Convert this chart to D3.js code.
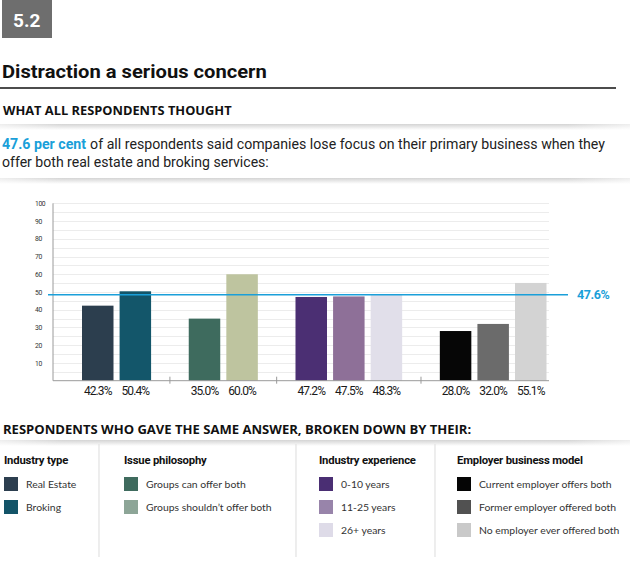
<!DOCTYPE html>
<html>
<head>
<meta charset="utf-8">
<script src="https://cdn.jsdelivr.net/npm/d3@7"></script>
<style>
  html, body { margin: 0; padding: 0; background: #fff; }
  svg { display: block; }
</style>
</head>
<body>
<svg id="chart" width="630" height="562"></svg>
<script>
// ---------- data ----------
const groupNames = ["Industry type", "Issue philosophy", "Industry experience", "Employer business model"];
const seriesLabels = [
  ["Real Estate", "Broking"],
  ["Groups can offer both", "Groups shouldn\u2019t offer both"],
  ["0-10 years", "11-25 years", "26+ years"],
  ["Current employer offers both", "Former employer offered both", "No employer ever offered both"]
];
const seriesValues = [
  [42.3, 50.4],
  [35.0, 60.0],
  [47.2, 47.5, 48.3],
  [28.0, 32.0, 55.1]
];
const barColors = [
  ["#2c3e4e", "#13566a"],
  ["#3e6b5e", "#bec49f"],
  ["#4b2f73", "#8e7098", "#e1dfea"],
  ["#060606", "#6b6b6b", "#d3d3d3"]
];
const legendColors = [
  ["#2c3e4f", "#135468"],
  ["#3f6b5e", "#8da597"],
  ["#4a2e73", "#9884aa", "#dedbe8"],
  ["#050505", "#515151", "#c9c9c9"]
];
const averageValue = 47.6;
const yTickValues = [10, 20, 30, 40, 50, 60, 70, 80, 90, 100];
const gridValues = d3.range(5, 101, 5);
const headline = "Distraction a serious concern";
const badge = "5.2";

// ---------- build ----------
const svg = d3.select("#chart");
const defs = svg.append("defs");
const blue = "#1a9fd9";

const g1 = defs.append("linearGradient").attr("id", "shadowV").attr("x1", 0).attr("y1", 0).attr("x2", 0).attr("y2", 1);
g1.append("stop").attr("offset", "0%").attr("stop-color", "#d4d4d4");
g1.append("stop").attr("offset", "100%").attr("stop-color", "#ffffff");
const mask = defs.append("linearGradient").attr("id", "shadowH").attr("x1", 0).attr("y1", 0).attr("x2", 1).attr("y2", 0);
mask.append("stop").attr("offset", "0%").attr("stop-color", "#fff").attr("stop-opacity", 0.6);
mask.append("stop").attr("offset", "10%").attr("stop-color", "#fff").attr("stop-opacity", 0);
mask.append("stop").attr("offset", "90%").attr("stop-color", "#fff").attr("stop-opacity", 0);
mask.append("stop").attr("offset", "100%").attr("stop-color", "#fff").attr("stop-opacity", 0.6);

function shadow(yy) {
  svg.append("rect").attr("x", 0).attr("y", yy).attr("width", 630).attr("height", 6).attr("fill", "url(#shadowV)");
  svg.append("rect").attr("x", 0).attr("y", yy).attr("width", 630).attr("height", 6).attr("fill", "url(#shadowH)");
}
function fit(sel, w) {
  const node = sel.node();
  const len = node.getComputedTextLength();
  const x0 = +sel.attr("x");
  const k = w / len;
  sel.attr("transform", `translate(${x0},0) scale(${k},1) translate(${-x0},0)`);
}

// badge
svg.append("rect").attr("x", 2).attr("y", 0).attr("width", 50).attr("height", 38).attr("fill", "#6e6e6e");
svg.append("text").attr("x", 13).attr("y", 27).text(badge)
  .attr("font-family", "Roboto, sans-serif").attr("font-weight", 700).attr("font-size", 19).attr("fill", "#fff");

// headline
const ht = svg.append("text").attr("x", 2).attr("y", 78).text(headline)
  .attr("font-family", "Roboto, sans-serif").attr("font-weight", 700).attr("font-size", 19).attr("fill", "#111");
fit(ht, 265);
svg.append("line").attr("x1", 0).attr("x2", 616).attr("y1", 88).attr("y2", 88).attr("stroke", "#111").attr("stroke-width", 1.5);

const sub1 = svg.append("text").attr("x", 3).attr("y", 115).text("WHAT ALL RESPONDENTS THOUGHT")
  .attr("font-family", "'Open Sans', sans-serif").attr("font-weight", 700).attr("font-size", 12.5).attr("fill", "#111");
fit(sub1, 229);
shadow(124);

// intro paragraph (two pieces on line 1, scaled together)
const introSize = 14.6;
const introG = svg.append("g");
const pA = introG.append("text").attr("x", 2).attr("y", 149)
  .attr("font-family", "Roboto, sans-serif").attr("font-size", introSize).attr("font-weight", 700)
  .attr("fill", blue).text(averageValue + " per cent");
const wA = pA.node().getComputedTextLength();
const gapW = 4.2;
const pB = introG.append("text").attr("x", 2 + wA + gapW).attr("y", 149)
  .attr("font-family", "Roboto, sans-serif").attr("font-size", introSize).attr("fill", "#222")
  .text("of all respondents said companies lose focus on their primary business when they");
const wB = pB.node().getComputedTextLength();
const kIntro = 603 / (wA + gapW + wB);
introG.attr("transform", `translate(2,0) scale(${kIntro},1) translate(-2,0)`);
const p2 = svg.append("text").attr("x", 2).attr("y", 167)
  .attr("font-family", "Roboto, sans-serif").attr("font-size", introSize).attr("fill", "#222")
  .text("offer both real estate and broking services:");
fit(p2, 267);
shadow(178);

// ---------- chart ----------
const axisX = 53, plotRight = 549;
const y = d3.scaleLinear().domain([0, 100]).range([380.7, 203.3]);
const groupGap = 0.84;
const flat = [];
let idx = 0;
seriesValues.forEach((vals, g) => vals.forEach((v, i) => {
  flat.push({ g, i, v, pos: idx + g * groupGap, color: barColors[g][i] });
  idx++;
}));
const lastPos = d3.max(flat, d => d.pos);
const x = d3.scaleLinear().domain([0, lastPos]).range([82, 515]);
const barW = 31.5;

// gridlines
svg.append("g").selectAll("line").data(gridValues).join("line")
  .attr("x1", axisX).attr("x2", plotRight)
  .attr("y1", d => Math.round(y(d)) + 0.5).attr("y2", d => Math.round(y(d)) + 0.5)
  .attr("stroke", "#ececec").attr("stroke-width", 1);

// y axis
const yAxis = svg.append("g").attr("transform", `translate(${axisX},0)`)
  .call(d3.axisLeft(y).tickValues(yTickValues).tickSize(0).tickPadding(10));
yAxis.select(".domain").attr("stroke", "#9a9a9a").attr("d", `M0,${y(100)}V${y(0)}`);
yAxis.selectAll("text").attr("font-family", "Roboto, sans-serif").attr("font-size", 6.8)
  .attr("fill", "#333").attr("text-anchor", "start").attr("x", -18).attr("letter-spacing", -0.4);

// bars
svg.append("g").selectAll("rect").data(flat).join("rect")
  .attr("x", d => x(d.pos)).attr("width", barW)
  .attr("y", d => y(d.v)).attr("height", d => y(0) - y(d.v))
  .attr("fill", d => d.color);

// baseline
svg.append("line").attr("x1", axisX).attr("x2", plotRight).attr("y1", y(0)).attr("y2", y(0))
  .attr("stroke", "#9a9a9a").attr("stroke-width", 1);

// group separators
const seps = [];
for (let g = 0; g < seriesValues.length - 1; g++) {
  const a = d3.max(flat.filter(d => d.g === g), d => x(d.pos) + barW);
  const b = d3.min(flat.filter(d => d.g === g + 1), d => x(d.pos));
  seps.push((a + b) / 2);
}
svg.append("g").selectAll("line").data(seps).join("line")
  .attr("x1", d => d).attr("x2", d => d).attr("y1", y(0) - 4).attr("y2", y(0) + 3)
  .attr("stroke", "#9a9a9a");

// value labels
svg.append("g").selectAll("text").data(flat).join("text")
  .attr("x", d => x(d.pos) + barW / 2).attr("y", 394.5)
  .attr("text-anchor", "middle")
  .attr("font-family", "Roboto, sans-serif").attr("font-size", 12).attr("letter-spacing", -0.9)
  .attr("fill", "#1a1a1a").text(d => d.v.toFixed(1) + "%");

// average line
svg.append("line").attr("x1", 48).attr("x2", 568).attr("y1", y(averageValue) - 1.5).attr("y2", y(averageValue) - 1.5)
  .attr("stroke", blue).attr("stroke-width", 1.6);
svg.append("text").attr("x", 577).attr("y", y(averageValue) - 1.5).attr("dy", "0.35em")
  .attr("font-family", "Roboto, sans-serif").attr("font-weight", 700).attr("font-size", 12.5)
  .attr("letter-spacing", -0.4).attr("fill", blue).text(averageValue + "%");

// ---------- legend section ----------
const lh = svg.append("text").attr("x", 3).attr("y", 434)
  .text("RESPONDENTS WHO GAVE THE SAME ANSWER, BROKEN DOWN BY THEIR:")
  .attr("font-family", "'Open Sans', sans-serif").attr("font-weight", 700).attr("font-size", 13).attr("fill", "#111");
fit(lh, 469);
shadow(440);

const colX = [4, 124, 319, 457];
const sepX = [99, 296, 435];
svg.append("g").selectAll("line").data(sepX).join("line")
  .attr("x1", d => d).attr("x2", d => d).attr("y1", 444).attr("y2", 557)
  .attr("stroke", "#e2e2e2").attr("stroke-width", 1.2);

groupNames.forEach((name, g) => {
  const gx = colX[g];
  svg.append("text").attr("x", gx).attr("y", 464).text(name)
    .attr("font-family", "Roboto, sans-serif").attr("font-weight", 700).attr("font-size", 11.3)
    .attr("letter-spacing", -0.2).attr("fill", "#111");
  seriesLabels[g].forEach((lab, i) => {
    const cy = 484 + i * 23;
    svg.append("rect").attr("x", gx).attr("y", cy - 7).attr("width", 14).attr("height", 14)
      .attr("fill", legendColors[g][i]);
    svg.append("text").attr("x", gx + 22).attr("y", cy).attr("dy", "0.35em").text(lab)
      .attr("font-family", "Lato, sans-serif").attr("font-size", 10.4).attr("fill", "#333");
  });
});
</script>
</body>
</html>
